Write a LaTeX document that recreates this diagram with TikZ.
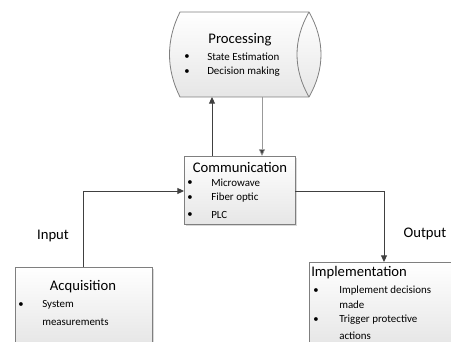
\documentclass[tikz,border=0pt]{standalone}
\usepackage{fontspec}
\setmainfont{Carlito}
\usetikzlibrary{arrows.meta}
\definecolor{edgegray}{HTML}{7F7F7F}
\definecolor{linegray}{HTML}{404040}
\definecolor{boxtop}{HTML}{FFFFFF}
\definecolor{boxbot}{HTML}{E6E6E6}
\tikzset{
  boxfill/.style={top color=boxtop, bottom color=boxbot, draw=edgegray, line width=0.6pt},
  shadowfill/.style={fill=black!15},
  title/.style={font=\fontsize{11}{13}\selectfont, inner sep=0pt},
  item/.style={font=\fontsize{8.2}{10}\selectfont, inner sep=0pt, anchor=west},
  dot/.style={font=\fontsize{8}{10}\selectfont, inner sep=0pt},
  conn/.style={draw=linegray, line width=0.7pt, -{Triangle[length=5pt,width=4.5pt]}},
  lightconn/.style={draw=black!40, line width=0.5pt, -{Triangle[length=5pt,width=4.5pt,fill=linegray]}},
  lbl/.style={font=\fontsize{11}{13}\selectfont, inner sep=0pt},
}
\begin{document}
\begin{tikzpicture}[x=0.75pt,y=-0.75pt]
\useasboundingbox (0,0) rectangle (451,342);
% Processing cylinder
\path[boxfill] (180,12) -- (309,12) .. controls (325,40) and (325,69) .. (309,97)
  -- (180,97) .. controls (166,69) and (166,40) .. (180,12) -- cycle;
\draw[draw=edgegray, line width=0.6pt] (309,12) .. controls (293,40) and (293,69) .. (309,97);
\coordinate (procB1) at (212,97);
\coordinate (procB2) at (262,97);
\node[title] (proct) at (240,40) {Processing};
\node[dot] (pb1) at (187,57) {•};
\node[item] (pi1) at (207,57) {State Estimation};
\node[dot] (pb2) at (187,72) {•};
\node[item] (pi2) at (207,72) {Decision making};
% Communication box
\fill[shadowfill] (186,158) rectangle (297,226);
\path[boxfill] (184,156) rectangle (295,224);
\coordinate (commT1) at (212,156);
\coordinate (commT2) at (262,156);
\coordinate (commL) at (184,191);
\coordinate (commR) at (295,191);
\node[title] (commt) at (240,167) {Communication};
\node[dot] (cb1) at (190,183) {•};
\node[item] (ci1) at (211,183) {Microwave};
\node[dot] (cb2) at (190,198) {•};
\node[item] (ci2) at (211,198) {Fiber optic};
\node[dot] (cb3) at (190,215) {•};
\node[item] (ci3) at (211,215) {PLC};
% Acquisition box
\fill[shadowfill] (17,269) rectangle (154,344);
\path[boxfill] (15,267) rectangle (152,345);
\coordinate (acqT) at (83,267);
\node[title] (acqt) at (83,287) {Acquisition};
\node[dot] (ab1) at (21,305) {•};
\node[item] (ai1) at (42,305) {System};
\node[item] (ai2) at (42,322) {measurements};
% Implementation box
\fill[shadowfill] (311,264) rectangle (460,344);
\path[boxfill] (309,262) rectangle (458,345);
\coordinate (impT) at (384,262);
\node[title, anchor=west] (impt) at (311,273) {Implementation};
\node[dot] (ib1) at (316,291) {•};
\node[item] (ii1) at (339,291) {Implement decisions};
\node[item] (ii2) at (339,305) {made};
\node[dot] (ib2) at (316,320) {•};
\node[item] (ii3) at (339,320) {Trigger protective};
\node[item] (ii4) at (339,335.5) {actions};
% Connectors
\draw[conn] (commT1) -- (procB1);
\draw[lightconn] (procB2) -- (commT2);
\draw[conn] (acqT) |- (commL);
\draw[conn] (commR) -| (impT);
\node[lbl] (inl) at (53,236) {Input};
\node[lbl] (outl) at (425,234) {Output};
\end{tikzpicture}
\end{document}
